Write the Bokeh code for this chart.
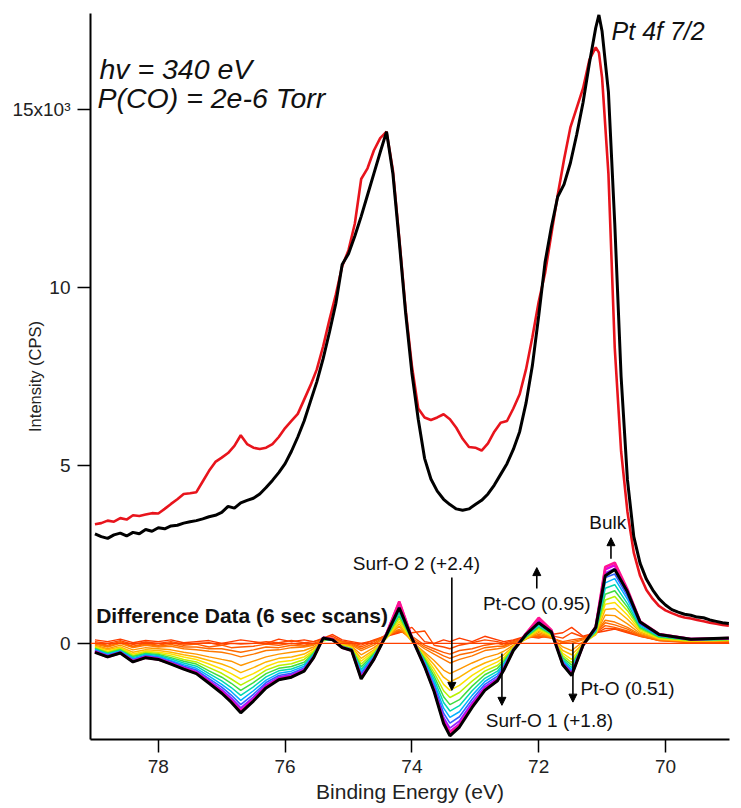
from bokeh.plotting import figure
from bokeh.models import Range1d, FixedTicker, Label, Arrow, NormalHead, Span
from bokeh.embed import file_html
from bokeh.resources import INLINE

FONT = "Liberation Sans"

# ---------------- main spectra (binding energy eV, intensity in 10^3 CPS) ----------------
spec_x = [79.0, 78.9, 78.8, 78.7, 78.6, 78.5, 78.4, 78.3, 78.2, 78.1, 78.0, 77.9, 77.8, 77.7, 77.6,
          77.5, 77.4, 77.3, 77.2, 77.1, 77.0, 76.9, 76.8, 76.7, 76.6, 76.5, 76.4, 76.3, 76.2, 76.1,
          76.0, 75.9, 75.8, 75.7, 75.6, 75.5, 75.4, 75.3, 75.2, 75.1, 75.0, 74.9, 74.8, 74.7, 74.6,
          74.5, 74.4, 74.3, 74.2, 74.1, 74.0, 73.9, 73.8, 73.7, 73.6, 73.5, 73.4, 73.3, 73.2, 73.1,
          73.0, 72.9, 72.8, 72.7, 72.6, 72.5, 72.4, 72.3, 72.2, 72.1, 72.0, 71.9, 71.8, 71.7, 71.6,
          71.5, 71.4, 71.3, 71.2, 71.1, 71.05, 71.0, 70.9, 70.8, 70.7, 70.6, 70.5, 70.4, 70.3, 70.2,
          70.1, 70.0, 69.9, 69.8, 69.7, 69.6, 69.5, 69.4, 69.3, 69.2, 69.1, 69.0]

clean_black = [3.08, 3.00, 2.95, 3.05, 3.10, 3.02, 3.12, 3.08, 3.20, 3.15, 3.25, 3.22, 3.30, 3.32, 3.38,
               3.42, 3.45, 3.50, 3.56, 3.60, 3.68, 3.85, 3.80, 3.95, 4.02, 4.08, 4.20, 4.38, 4.58, 4.80,
               5.05, 5.40, 5.80, 6.25, 6.80, 7.35, 8.00, 8.75, 9.55, 10.65, 10.95, 11.45, 12.00, 12.60, 13.20,
               13.80, 14.38, 13.20, 11.30, 9.30, 7.60, 6.30, 5.20, 4.62, 4.28, 4.05, 3.90, 3.78, 3.74, 3.78,
               3.90, 4.02, 4.20, 4.45, 4.75, 5.05, 5.45, 5.95, 6.75, 7.80, 9.20, 10.70, 11.70, 12.55, 12.90,
               13.50, 14.30, 15.20, 16.30, 17.30, 17.66, 17.20, 15.50, 11.80, 7.50, 4.60, 3.00, 2.25, 1.80, 1.50,
               1.25, 1.08, 0.95, 0.88, 0.82, 0.79, 0.74, 0.72, 0.66, 0.62, 0.58, 0.56]

co_red = [3.35, 3.38, 3.45, 3.42, 3.52, 3.48, 3.60, 3.58, 3.62, 3.66, 3.65, 3.78, 3.92, 4.05, 4.20,
          4.22, 4.25, 4.55, 4.85, 5.10, 5.22, 5.35, 5.55, 5.85, 5.60, 5.50, 5.46, 5.50, 5.60, 5.80,
          6.05, 6.25, 6.45, 6.85, 7.25, 7.70, 8.35, 9.10, 9.80, 10.60, 11.05, 11.80, 13.05, 13.35, 13.85,
          14.20, 14.38, 13.30, 11.40, 9.40, 7.80, 6.60, 6.35, 6.28, 6.35, 6.44, 6.30, 6.06, 5.75, 5.52,
          5.50, 5.42, 5.62, 5.95, 6.20, 6.25, 6.60, 7.00, 7.70, 8.60, 9.60, 10.40, 11.50, 12.60, 13.60,
          14.50, 15.05, 15.60, 16.40, 16.75, 16.60, 15.90, 13.20, 8.30, 5.40, 3.70, 2.55, 1.90, 1.50, 1.25,
          1.05, 0.93, 0.85, 0.78, 0.73, 0.70, 0.66, 0.62, 0.58, 0.55, 0.52, 0.50]

# ---------------- difference data (6 sec scans) ----------------
diff_x = [79.0, 78.8, 78.6, 78.4, 78.2, 78.0, 77.8, 77.6, 77.4, 77.2, 77.0, 76.85, 76.7, 76.5, 76.3,
          76.1, 75.9, 75.7, 75.55, 75.4, 75.25, 75.1, 74.95, 74.8, 74.6, 74.4, 74.2, 74.0, 73.8, 73.65,
          73.5, 73.4, 73.25, 73.05, 72.85, 72.65, 72.55, 72.4, 72.2, 72.0, 71.8, 71.62, 71.48, 71.3, 71.1,
          70.95, 70.8, 70.6, 70.4, 70.1, 69.6, 69.0]

scan_01 = [0.10, 0.05, 0.12, 0.02, 0.08, 0.05, 0.10, 0.02, 0.05, 0.08, 0.00, 0.05, 0.10, 0.05, 0.00,
           0.12, 0.05, 0.10, 0.05, 0.15, 0.25, 0.10, 0.05, 0.00, 0.08, 0.20, 0.30, 0.45, 0.05, 0.00,
           0.10, 0.05, 0.15, 0.05, 0.20, 0.10, 0.05, 0.10, 0.20, 0.15, 0.25, 0.30, 0.45, 0.20, 0.30,
           0.35, 0.40, 0.30, 0.20, 0.10, 0.05, 0.02]
scan_02 = [0.05, 0.00, 0.08, -0.03, 0.04, 0.00, 0.05, -0.02, 0.00, 0.02, -0.05, 0.00, -0.02, 0.00, 0.05,
           0.02, 0.08, 0.02, 0.05, 0.12, 0.20, 0.06, 0.02, -0.05, 0.10, 0.22, 0.32, 0.30, 0.35, -0.05,
           -0.10, -0.15, -0.05, 0.02, 0.10, 0.05, 0.00, 0.08, 0.18, 0.18, 0.22, 0.15, 0.30, 0.18, 0.28,
           0.42, 0.42, 0.32, 0.22, 0.08, 0.04, 0.03]
scan_03 = [0.02, -0.05, 0.05, -0.08, 0.00, -0.05, 0.02, -0.05, -0.02, -0.10, -0.05, -0.12, -0.10, -0.08, -0.02,
           -0.05, 0.00, -0.05, 0.00, 0.10, 0.15, 0.05, 0.00, -0.10, 0.05, 0.25, 0.35, 0.20, -0.05, -0.15,
           -0.25, -0.30, -0.20, -0.15, -0.05, 0.00, -0.05, 0.05, 0.15, 0.20, 0.15, 0.05, 0.10, 0.15, 0.30,
           0.50, 0.45, 0.35, 0.20, 0.08, 0.02, 0.05]
scan_04 = [0.00, -0.08, 0.02, -0.10, -0.02, -0.08, -0.03, -0.10, -0.10, -0.15, -0.15, -0.20, -0.25, -0.18, -0.10,
           -0.12, -0.05, -0.08, -0.02, 0.10, 0.14, 0.04, -0.02, -0.15, 0.00, 0.22, 0.38, 0.15, -0.10, -0.22,
           -0.35, -0.42, -0.32, -0.25, -0.12, -0.08, -0.08, 0.03, 0.15, 0.22, 0.16, 0.02, 0.05, 0.12, 0.30,
           0.58, 0.52, 0.40, 0.22, 0.09, 0.04, 0.06]
scan_05 = [-0.02, -0.10, 0.00, -0.12, -0.05, -0.10, -0.08, -0.15, -0.18, -0.22, -0.25, -0.30, -0.38, -0.30, -0.20,
           -0.18, -0.12, -0.10, -0.05, 0.10, 0.12, 0.02, -0.05, -0.20, -0.05, 0.20, 0.40, 0.10, -0.15, -0.30,
           -0.45, -0.55, -0.45, -0.35, -0.20, -0.15, -0.12, 0.00, 0.15, 0.25, 0.18, 0.00, 0.00, 0.10, 0.30,
           0.65, 0.60, 0.45, 0.25, 0.10, 0.05, 0.08]
scan_06 = [-0.05, -0.15, -0.05, -0.18, -0.12, -0.15, -0.18, -0.25, -0.30, -0.38, -0.45, -0.50, -0.62, -0.50, -0.38,
           -0.30, -0.25, -0.20, -0.10, 0.08, 0.10, 0.00, -0.08, -0.32, -0.12, 0.15, 0.48, 0.05, -0.25, -0.48,
           -0.75, -0.85, -0.72, -0.55, -0.40, -0.30, -0.22, -0.05, 0.12, 0.30, 0.18, -0.10, -0.20, 0.05, 0.25,
           0.80, 0.78, 0.55, 0.28, 0.12, 0.06, 0.08]
scan_07 = [-0.08, -0.18, -0.10, -0.25, -0.18, -0.20, -0.25, -0.32, -0.38, -0.48, -0.58, -0.68, -0.82, -0.68, -0.52,
           -0.42, -0.38, -0.30, -0.15, 0.08, 0.10, -0.02, -0.10, -0.42, -0.18, 0.15, 0.55, 0.05, -0.30, -0.60,
           -0.95, -1.08, -0.95, -0.72, -0.55, -0.42, -0.32, -0.08, 0.12, 0.35, 0.20, -0.20, -0.32, 0.00, 0.25,
           0.95, 0.98, 0.68, 0.32, 0.12, 0.06, 0.08]
scan_08 = [-0.10, -0.22, -0.12, -0.30, -0.22, -0.25, -0.30, -0.38, -0.45, -0.58, -0.72, -0.85, -1.00, -0.85, -0.65,
           -0.52, -0.48, -0.38, -0.20, 0.08, 0.10, -0.05, -0.12, -0.50, -0.22, 0.15, 0.62, 0.08, -0.35, -0.72,
           -1.15, -1.32, -1.18, -0.90, -0.68, -0.52, -0.40, -0.10, 0.15, 0.38, 0.22, -0.28, -0.45, -0.02, 0.28,
           1.10, 1.15, 0.80, 0.36, 0.14, 0.07, 0.09]
scan_09 = [-0.12, -0.25, -0.15, -0.34, -0.25, -0.28, -0.35, -0.45, -0.52, -0.68, -0.84, -1.00, -1.17, -0.98, -0.75,
           -0.62, -0.57, -0.45, -0.24, 0.10, 0.10, -0.06, -0.14, -0.58, -0.26, 0.17, 0.70, 0.10, -0.40, -0.82,
           -1.33, -1.52, -1.38, -1.06, -0.78, -0.62, -0.45, -0.12, 0.16, 0.42, 0.24, -0.34, -0.54, -0.03, 0.30,
           1.22, 1.32, 0.92, 0.40, 0.16, 0.08, 0.10]
scan_10 = [-0.14, -0.27, -0.18, -0.37, -0.28, -0.31, -0.40, -0.50, -0.58, -0.77, -0.95, -1.12, -1.32, -1.10, -0.85,
           -0.70, -0.65, -0.53, -0.27, 0.11, 0.09, -0.08, -0.15, -0.66, -0.30, 0.19, 0.78, 0.12, -0.44, -0.92,
           -1.50, -1.72, -1.58, -1.20, -0.88, -0.70, -0.50, -0.14, 0.18, 0.46, 0.26, -0.40, -0.61, -0.04, 0.32,
           1.38, 1.48, 1.02, 0.44, 0.18, 0.09, 0.11]
scan_11 = [-0.16, -0.29, -0.20, -0.40, -0.30, -0.34, -0.44, -0.55, -0.64, -0.85, -1.05, -1.24, -1.46, -1.22, -0.94,
           -0.77, -0.72, -0.59, -0.30, 0.12, 0.09, -0.09, -0.16, -0.73, -0.33, 0.20, 0.86, 0.12, -0.49, -1.01,
           -1.66, -1.90, -1.75, -1.33, -0.98, -0.78, -0.56, -0.15, 0.20, 0.50, 0.28, -0.45, -0.68, -0.04, 0.35,
           1.55, 1.65, 1.12, 0.48, 0.20, 0.10, 0.12]
scan_12 = [-0.18, -0.31, -0.22, -0.43, -0.33, -0.37, -0.48, -0.60, -0.70, -0.92, -1.15, -1.35, -1.60, -1.33, -1.03,
           -0.84, -0.78, -0.64, -0.33, 0.13, 0.09, -0.10, -0.17, -0.80, -0.36, 0.22, 0.94, 0.13, -0.53, -1.10,
           -1.82, -2.08, -1.92, -1.46, -1.07, -0.85, -0.61, -0.16, 0.22, 0.54, 0.30, -0.50, -0.74, -0.04, 0.38,
           1.70, 1.82, 1.24, 0.52, 0.22, 0.10, 0.12]
scan_13 = [-0.20, -0.33, -0.24, -0.46, -0.35, -0.40, -0.51, -0.64, -0.75, -0.99, -1.23, -1.45, -1.72, -1.43, -1.10,
           -0.90, -0.84, -0.69, -0.35, 0.14, 0.10, -0.10, -0.18, -0.86, -0.39, 0.23, 1.02, 0.14, -0.57, -1.19,
           -1.96, -2.24, -2.06, -1.57, -1.15, -0.92, -0.66, -0.17, 0.23, 0.58, 0.32, -0.53, -0.79, -0.04, 0.40,
           1.85, 1.95, 1.33, 0.55, 0.23, 0.11, 0.13]
scan_14 = [-0.22, -0.35, -0.25, -0.48, -0.37, -0.42, -0.54, -0.67, -0.79, -1.04, -1.30, -1.53, -1.81, -1.51, -1.16,
           -0.95, -0.88, -0.72, -0.37, 0.15, 0.10, -0.11, -0.19, -0.92, -0.42, 0.25, 1.10, 0.15, -0.60, -1.26,
           -2.08, -2.38, -2.18, -1.66, -1.22, -0.98, -0.70, -0.18, 0.25, 0.63, 0.34, -0.56, -0.84, -0.05, 0.43,
           1.98, 2.10, 1.42, 0.58, 0.24, 0.11, 0.14]
scan_15 = [-0.23, -0.37, -0.26, -0.50, -0.38, -0.44, -0.56, -0.70, -0.82, -1.08, -1.35, -1.60, -1.88, -1.57, -1.21,
           -0.99, -0.92, -0.75, -0.39, 0.16, 0.11, -0.11, -0.19, -0.96, -0.44, 0.27, 1.15, 0.16, -0.63, -1.31,
           -2.17, -2.48, -2.27, -1.73, -1.27, -1.02, -0.72, -0.18, 0.27, 0.68, 0.36, -0.58, -0.87, -0.05, 0.45,
           2.08, 2.20, 1.48, 0.60, 0.25, 0.12, 0.14]
scan_16 = [-0.24, -0.38, -0.27, -0.51, -0.40, -0.45, -0.57, -0.71, -0.84, -1.10, -1.38, -1.63, -1.92, -1.60, -1.23,
           -1.01, -0.94, -0.77, -0.40, 0.16, 0.12, -0.12, -0.20, -0.98, -0.45, 0.28, 1.18, 0.16, -0.64, -1.33,
           -2.22, -2.52, -2.31, -1.77, -1.30, -1.04, -0.74, -0.19, 0.28, 0.72, 0.38, -0.59, -0.88, -0.05, 0.47,
           2.15, 2.27, 1.52, 0.62, 0.26, 0.12, 0.15]
diff_final = [-0.25, -0.38, -0.27, -0.52, -0.40, -0.45, -0.58, -0.72, -0.85, -1.12, -1.40, -1.65, -1.95, -1.62, -1.25,
              -1.02, -0.95, -0.78, -0.40, 0.15, 0.10, -0.12, -0.20, -1.00, -0.45, 0.25, 1.00, 0.15, -0.65, -1.35,
              -2.25, -2.60, -2.35, -1.80, -1.32, -1.05, -0.75, -0.20, 0.25, 0.58, 0.32, -0.60, -0.90, -0.05, 0.45,
              1.90, 2.08, 1.45, 0.60, 0.25, 0.12, 0.15]

scans = [scan_01, scan_02, scan_03, scan_04, scan_05, scan_06, scan_07, scan_08,
         scan_09, scan_10, scan_11, scan_12, scan_13, scan_14, scan_15, scan_16]
scan_colors = ["#ff3c00", "#ff4a00", "#ff5a00", "#ff6900", "#ff7800", "#ff9600", "#ffb400", "#ffe000",
               "#b8f000", "#40dc40", "#00d8b0", "#00b0ff", "#3060ff", "#9020ff", "#e000e0", "#ff1493"]
scan_widths = [1.4, 1.4, 1.4, 1.4, 1.4, 1.4, 1.5, 1.5, 1.5, 1.5, 1.5, 1.5, 1.6, 1.8, 2.6, 2.6]

y_ticks = [0, 5, 10, 15]
y_tick_labels = {0: "0", 5: "5", 10: "10", 15: "15x10\u00b3"}
x_ticks = [78, 76, 74, 72, 70]

# ---------------- figure ----------------
p = figure(frame_width=639, frame_height=726,
           min_border_left=90, min_border_right=3, min_border_top=13, min_border_bottom=69,
           x_range=Range1d(79.07, 68.99), y_range=Range1d(-2.7, 17.7),
           output_backend="svg", toolbar_location=None)
p.xgrid.visible = False
p.ygrid.visible = False
p.outline_line_color = None
p.background_fill_color = "white"
p.border_fill_color = "white"

for ax in (p.xaxis[0], p.yaxis[0]):
    ax.axis_line_width = 2
    ax.axis_line_color = "black"
    ax.major_tick_line_width = 1.5
    ax.major_tick_in = 0
    ax.major_tick_out = 13
    ax.minor_tick_line_color = None
    ax.major_label_text_font = FONT
    ax.major_label_text_font_size = "19px"
    ax.major_label_text_color = "#222222"
    ax.axis_label_text_font = FONT
    ax.axis_label_text_font_style = "normal"
    ax.axis_label_text_color = "#222222"

p.xaxis.ticker = FixedTicker(ticks=x_ticks)
p.xaxis.major_label_standoff = 7
p.xaxis.axis_label = "Binding Energy (eV)"
p.xaxis.axis_label_text_font_size = "21px"
p.xaxis.axis_label_standoff = 4

p.yaxis.ticker = FixedTicker(ticks=y_ticks)
p.yaxis.major_label_overrides = y_tick_labels
p.yaxis.major_label_standoff = 7
p.yaxis.axis_label = "Intensity (CPS)"
p.yaxis.axis_label_text_font_size = "16.5px"
p.yaxis.axis_label_standoff = -35

# zero reference line of difference data
p.add_layout(Span(location=0, dimension="width", line_color="#ff4000", line_width=1.2))

for ys, col, lw in zip(scans, scan_colors, scan_widths):
    p.line(diff_x, ys, line_color=col, line_width=lw)
p.line(diff_x, diff_final, line_color="black", line_width=3)

p.line(spec_x, co_red, line_color="#e8141c", line_width=2.6)
p.line(spec_x, clean_black, line_color="black", line_width=3)

# ---------------- annotations ----------------
def add_label(x, y, text, size, style="normal", align="left"):
    p.add_layout(Label(x=x, y=y, text=text, text_font=FONT, text_font_size=size,
                       text_font_style=style, text_align=align, text_baseline="middle",
                       text_color="#111111"))

add_label(78.93, 16.15, "hv = 340 eV", "28.5px", "italic")
add_label(78.96, 15.32, "P(CO) = 2e-6 Torr", "28.5px", "italic")
add_label(70.85, 17.2, "Pt 4f 7/2", "25px", "italic")
add_label(78.98, 0.78, "Difference Data (6 sec scans)", "21px", "bold")
add_label(73.93, 2.24, "Surf-O 2 (+2.4)", "19px", align="center")
add_label(72.03, 1.12, "Pt-CO (0.95)", "19px", align="center")
add_label(70.91, 3.39, "Bulk", "19px", align="center")
add_label(71.83, -2.16, "Surf-O 1 (+1.8)", "19px", align="center")
add_label(71.34, -1.26, "Pt-O (0.51)", "19px", align="left")

def add_arrow(x, y0, y1):
    p.add_layout(Arrow(end=NormalHead(size=8, fill_color="black", line_color="black"),
                       x_start=x, y_start=y0, x_end=x, y_end=y1,
                       line_color="black", line_width=1.6))

add_arrow(73.37, 1.85, -1.32)
add_arrow(72.03, 1.54, 2.13)
add_arrow(70.86, 2.38, 2.97)
add_arrow(72.58, -0.28, -1.74)
add_arrow(71.46, 0.0, -1.65)

open("out.html", "w").write(file_html(p, INLINE))
